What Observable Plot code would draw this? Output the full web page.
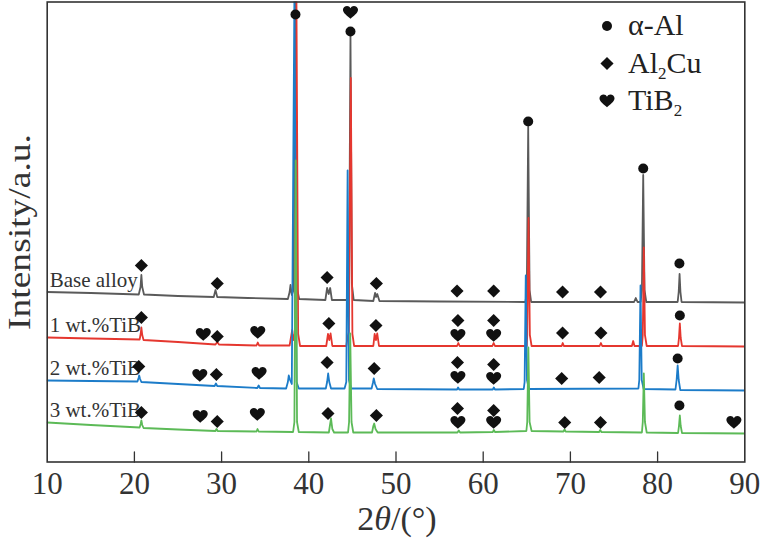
<!DOCTYPE html>
<html><head><meta charset="utf-8">
<script src="https://cdn.jsdelivr.net/npm/d3@7"></script>
<script src="https://cdn.jsdelivr.net/npm/@observablehq/plot@0.6"></script>
<style>body{margin:0;background:#fff}</style>
</head><body><div id="chart"></div>
<script>
// ---- data: [2θ (deg), intensity (a.u., offset traces)] ----
const xTicks = [10, 20, 30, 40, 50, 60, 70, 80, 90];
const seriesNames = ["Base alloy", "1 wt.%TiB", "2 wt.%TiB", "3 wt.%TiB"];
const seriesColors = ["#5a5a5a", "#e5372f", "#1c7cc9", "#5cba57"];

const baseAlloy = [[10,170],[15,169],[20.5,167.5],[20.7,175],[20.8,187],[20.9,175],[21.1,167.5],[25,166],[29.1,165],[29.3,172],[29.5,165],[33,164],[37.6,163],[37.8,170],[37.9,177],[38.05,167],[38.25,172],[38.47,470],[38.68,172],[38.9,163],[41.9,162],[42.1,174],[42.28,168],[42.45,174],[42.65,162],[44.45,162],[44.62,178],[44.78,428],[44.94,178],[45.15,162],[47.4,161],[47.6,169],[47.72,165],[47.85,168],[48.1,161],[55,160.5],[64.85,160],[65.0,172],[65.16,335],[65.32,172],[65.5,160],[77.3,160],[77.5,164],[77.7,160],[78.05,160],[78.2,172],[78.35,287],[78.5,172],[78.7,160],[82.3,160],[82.42,170],[82.52,188],[82.62,170],[82.75,160],[90,159.5]];

const tib1 = [[10,124.5],[15,123.5],[20.6,122.5],[20.72,128],[20.8,134.5],[20.9,127],[21.05,122],[25,120],[29.3,117.5],[29.5,120],[29.7,117.5],[34,116.5],[34.15,119.5],[34.3,116.5],[37.8,116.5],[38.0,127],[38.1,132],[38.25,122],[38.4,128],[38.58,470],[38.78,128],[39.0,116],[42.0,116],[42.2,128],[42.35,122],[42.5,128.5],[42.7,116],[44.3,116],[44.45,125],[44.6,130],[44.82,384],[45.0,128],[45.2,116],[47.4,116],[47.55,128],[47.7,122],[47.85,128.5],[48.05,116],[57.0,116],[57.15,119],[57.3,116],[61.05,116],[61.2,119],[61.35,116],[65.0,116],[65.05,127],[65.2,244],[65.35,127],[65.55,116],[69.0,116],[69.12,119],[69.25,116],[73.35,116],[73.5,119],[73.65,116],[77.05,116],[77.2,121],[77.35,116],[78.2,116],[78.3,127],[78.42,214.5],[78.55,127],[78.75,116],[82.35,116],[82.45,124],[82.55,138.5],[82.65,124],[82.8,116],[90,115.5]];

const tib2 = [[10,81.5],[15,81],[20.35,80.5],[20.48,84],[20.55,86.5],[20.65,83],[20.8,80],[25,78],[29.2,76],[29.35,78.5],[29.5,76],[34.1,74],[34.25,76.5],[34.4,74],[37.4,73.5],[37.6,80],[37.7,86.5],[37.85,82],[38.05,78],[38.35,470],[38.6,80],[38.85,73.5],[41.95,73.5],[42.1,80],[42.22,88.5],[42.35,80],[42.55,73.5],[44.1,73.5],[44.3,80],[44.45,291.5],[44.6,82],[44.85,73.5],[47.2,73.5],[47.35,79],[47.45,83.5],[47.6,78],[47.85,73],[57.0,72.5],[57.12,74.5],[57.25,72.5],[61.1,72.5],[61.22,74.5],[61.35,72.5],[64.65,73],[64.75,80],[64.88,186.5],[65.02,82],[65.25,73],[77.8,73.5],[77.9,82],[78.04,176.5],[78.18,82],[78.4,73],[82.05,72.5],[82.18,82],[82.3,96.5],[82.42,82],[82.6,72],[90,71.5]];

const tib3 = [[10,39.5],[15,37],[20.6,34.5],[20.72,38],[20.8,41.5],[20.9,37],[21.05,34],[25,32.5],[29.3,31],[29.42,33],[29.55,31],[34.0,30.5],[34.12,33],[34.25,30.5],[38.2,30],[38.35,40],[38.5,301.5],[38.65,40],[38.85,30],[42.3,29.5],[42.45,38],[42.55,43.5],[42.7,33],[42.9,29.5],[44.5,29.5],[44.62,40],[44.75,128.5],[44.9,40],[45.1,29.5],[47.25,29.5],[47.4,36],[47.5,38.5],[47.65,33],[47.9,29.5],[57.05,29.5],[57.2,31.5],[57.35,29.5],[61.1,30],[61.22,32],[61.35,30],[64.95,31],[65.05,40],[65.18,114.5],[65.32,40],[65.55,31],[69.2,30.5],[69.33,32.5],[69.45,30.5],[73.3,30],[73.42,32],[73.55,30],[78.2,29.5],[78.3,40],[78.42,88.5],[78.55,40],[78.75,29.5],[82.35,29],[82.45,36],[82.55,46.5],[82.65,36],[82.8,29],[90,28.5]];

// phase markers: [2θ, intensity]
const alphaAlMarks = [[38.47,447.5],[44.78,430.5],[65.16,340.5],[78.35,293.5],[82.5,198.5],[82.55,146.5],[82.3,103.5],[82.5,56.5]];
const al2cuMarks = [
  [20.8,196.5],[29.5,178.5],[42.1,184.5],[47.75,178.5],[57.0,171],[61.2,171],[69.1,170],[73.45,170],
  [20.8,144.5],[29.5,125.5],[42.3,138.5],[47.7,136.5],[57.1,141.5],[61.2,141.5],[69.1,129],[73.5,129],
  [20.5,95.5],[29.4,87.5],[42.1,99.5],[47.5,93.5],[57.05,99.5],[61.2,97.5],[69.0,83.5],[73.3,84.5],
  [20.8,49.5],[29.5,40.5],[42.2,48.5],[47.75,46.5],[57.05,53.5],[61.2,51.5],[69.35,39.5],[73.45,39.5]];
const tib2Marks = [[44.78,449.5],
  [27.9,127.5],[34.15,129.5],[57.1,126.5],[61.2,126.5],
  [27.5,86.5],[34.3,88.5],[57.1,84.5],[61.2,83.5],
  [27.55,45.5],[34.1,47.5],[57.1,39.5],[61.2,39.5],[88.75,39.5]];

const legendItems = [["α-Al"], ["Al","2","Cu"], ["TiB","2"]];

// ---- drawing ----
const FONT = "'Liberation Serif','Times New Roman',serif";
const heart = {draw(c, size) {
  const s = Math.sqrt(size);
  c.moveTo(0, 0.42*s);
  c.bezierCurveTo(-0.18*s, 0.25*s, -0.5*s, 0.05*s, -0.5*s, -0.18*s);
  c.bezierCurveTo(-0.5*s, -0.42*s, -0.12*s, -0.55*s, 0, -0.28*s);
  c.bezierCurveTo(0.12*s, -0.55*s, 0.5*s, -0.42*s, 0.5*s, -0.18*s);
  c.bezierCurveTo(0.5*s, 0.05*s, 0.18*s, 0.25*s, 0, 0.42*s);
  c.closePath();
}};
const tickShape = {draw(c, l) { c.moveTo(0, 0); c.lineTo(0, -l); }};

const allSeries = [baseAlloy, tib1, tib2, tib3];
const labelRows = seriesNames.map((n, i) => ({name: n, x: allSeries[i][0][0], y: allSeries[i][0][1]}));

const svg = Plot.plot({
  width: 761, height: 542,
  marginLeft: 46.7, marginRight: 16.7, marginTop: 1.5, marginBottom: 80.5,
  x: {domain: [10, 90]},
  y: {domain: [0, 460], axis: null},
  style: {fontFamily: FONT, background: "#fff", color: "#333"},
  marks: [
    ...allSeries.map((s, i) => Plot.line(s, {x: d => d[0], y: d => d[1], stroke: seriesColors[i], strokeWidth: 1.8, clip: true})),
    Plot.text(labelRows, {x: "x", y: "y", text: "name", textAnchor: "start", dx: 2.5, dy: -12, fontSize: 21, fill: "#333", fontFamily: FONT}),
    Plot.dot(alphaAlMarks, {x: d => d[0], y: d => d[1], r: 5, fill: "#111", symbol: "circle"}),
    Plot.dot(al2cuMarks, {x: d => d[0], y: d => d[1], r: 5.9, fill: "#111", symbol: "diamond2"}),
    Plot.dot(tib2Marks, {x: d => d[0], y: d => d[1], r: 8.5, fill: "#111", symbol: heart}),
    Plot.vectorX(xTicks.slice(1, -1), {x: d => d, frameAnchor: "bottom", length: 10, rotate: 0, anchor: "start", shape: tickShape, stroke: "#333", strokeWidth: 1.3}),
    Plot.axisX(xTicks, {tickSize: 0, tickPadding: 10, fontSize: 31, fill: "#333", label: null}),
    Plot.frame({stroke: "#333", strokeWidth: 1.6})
  ]
});
document.getElementById("chart").appendChild(svg);

// axis titles and legend
const S = d3.select(svg);
S.append("text").attr("transform", "translate(30,232) rotate(-90)")
  .attr("text-anchor", "middle").attr("font-family", FONT).attr("font-size", 32).attr("fill", "#333")
  .attr("textLength", 196).attr("lengthAdjust", "spacingAndGlyphs")
  .text("Intensity/a.u.");
const xl = S.append("text").attr("x", 397).attr("y", 530).attr("text-anchor", "middle")
  .attr("font-family", FONT).attr("font-size", 34).attr("fill", "#333");
xl.append("tspan").text("2");
xl.append("tspan").attr("font-style", "italic").text("θ");
xl.append("tspan").text("/(°)");

const legendSyms = [[d3.symbolCircle, 5], [d3.symbolDiamond2, 5.9], [heart, 8.5]];
const lg = S.append("g").attr("font-family", FONT).attr("fill", "#222").attr("text-anchor", "start");
legendItems.forEach((parts, i) => {
  const cy = 26 + i * 37.5;
  lg.append("path").attr("transform", `translate(607,${cy})`)
    .attr("d", d3.symbol().type(legendSyms[i][0]).size(Math.PI * legendSyms[i][1] ** 2)()).attr("fill", "#111");
  const t = lg.append("text").attr("x", 628).attr("y", cy + 9).attr("font-size", 30).attr("text-anchor", "start");
  parts.forEach((p, j) => {
    const sp = t.append("tspan").text(p);
    if (j % 2 === 1) sp.attr("font-size", 17).attr("dy", 6);
    else if (j > 0) sp.attr("dy", -6);
  });
});
</script></body></html>
